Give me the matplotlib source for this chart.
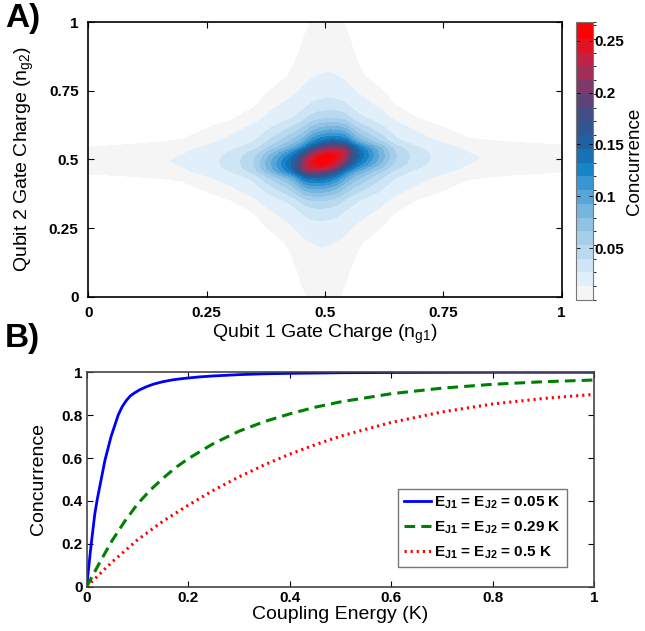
import numpy as np
import matplotlib
matplotlib.use("Agg")
import matplotlib.pyplot as plt
from matplotlib.colors import LinearSegmentedColormap, ListedColormap, BoundaryNorm
from matplotlib.cm import ScalarMappable

plt.rcParams["font.family"] = ["Liberation Sans", "DejaVu Sans"]
plt.rcParams["mathtext.fontset"] = "custom"
plt.rcParams["mathtext.rm"] = "Liberation Sans"
plt.rcParams["mathtext.it"] = "Liberation Sans:italic"
plt.rcParams["mathtext.bf"] = "Liberation Sans:bold"

# --- panel A: concurrence map, read as two cuts through (0.5, 0.5) ---
ng_cut = [0, 0.05, 0.1, 0.15, 0.2, 0.25, 0.3, 0.35, 0.38, 0.41, 0.43, 0.445, 0.455, 0.465,
          0.48, 0.5, 0.52, 0.535, 0.545, 0.555, 0.57, 0.59, 0.62, 0.65, 0.7, 0.75, 0.8,
          0.85, 0.9, 0.95, 1.0]
# concurrence along ng1 at ng2 = 0.5
conc_ng1_cut = [0.0098, 0.0106, 0.0114, 0.0125, 0.0141, 0.0213, 0.0319, 0.0532, 0.0851, 0.120,
                0.146, 0.178, 0.207, 0.234, 0.255, 0.266, 0.255, 0.234, 0.207, 0.178, 0.146,
                0.120, 0.0851, 0.0532, 0.0319, 0.0213, 0.0141, 0.0125, 0.0114, 0.0106, 0.0098]
# concurrence along ng2 at ng1 = 0.5
conc_ng2_cut = [0.0077, 0.0090, 0.0104, 0.0120, 0.0141, 0.0213, 0.0319, 0.0532, 0.0798, 0.112,
                0.138, 0.168, 0.197, 0.226, 0.253, 0.266, 0.253, 0.226, 0.197, 0.168, 0.138,
                0.112, 0.0798, 0.0532, 0.0319, 0.0213, 0.0141, 0.0120, 0.0104, 0.0090, 0.0077]
conc_peak = 0.266
conc_zero = 0.0068      # below this the concurrence is zero (white)
core_shear = 0.3        # tilt of the central spot towards the main diagonal
band_step = 0.01325
cbar_ticks = [0.05, 0.1, 0.15, 0.2, 0.25]

# --- panel B: concurrence vs coupling energy ---
ej_labels = ["0.05", "0.29", "0.5"]
x_blue = [0, 0.004, 0.008, 0.012, 0.016, 0.021, 0.026, 0.031, 0.036, 0.042, 0.048, 0.055,
          0.062, 0.07, 0.078, 0.086, 0.095, 0.105, 0.118, 0.132, 0.15, 0.17, 0.19, 0.22,
          0.25, 0.3, 0.35, 0.4, 0.5, 0.6, 0.8, 1.0]
y_blue = [0, 0.09, 0.18, 0.26, 0.34, 0.41, 0.47, 0.53, 0.59, 0.645, 0.70, 0.75, 0.80, 0.84,
          0.868, 0.89, 0.905, 0.919, 0.933, 0.945, 0.956, 0.965, 0.971, 0.978, 0.983,
          0.989, 0.993, 0.995, 0.998, 0.999, 1.0, 1.0]
x_green = [0, 0.025, 0.05, 0.075, 0.1, 0.125, 0.15, 0.175, 0.2, 0.25, 0.3, 0.35, 0.4, 0.45,
           0.5, 0.6, 0.7, 0.8, 0.9, 1.0]
y_green = [0, 0.11, 0.215, 0.305, 0.385, 0.45, 0.505, 0.555, 0.597, 0.668, 0.725, 0.77, 0.806,
           0.837, 0.862, 0.9, 0.926, 0.944, 0.956, 0.964]
x_red = [0, 0.05, 0.1, 0.15, 0.2, 0.25, 0.3, 0.35, 0.4, 0.45, 0.5, 0.6, 0.7, 0.8, 0.9, 1.0]
y_red = [0, 0.115, 0.218, 0.305, 0.38, 0.45, 0.512, 0.568, 0.618, 0.662, 0.702, 0.766, 0.815,
         0.852, 0.878, 0.897]


def bold_ticks(ax):
    for lab in ax.get_xticklabels() + ax.get_yticklabels():
        lab.set_fontweight("bold")


def main():
    fig = plt.figure(figsize=(6.45, 6.31), dpi=100)

    # field on a fine grid, built from the two cuts (log interpolation)
    g = np.linspace(0, 1, 601)
    log1 = np.log(conc_ng1_cut)
    log2 = np.log(conc_ng2_cut)
    DX, DY = np.meshgrid(g - 0.5, g - 0.5)
    sep = np.exp(np.interp(0.5 + DX, ng_cut, log1) + np.interp(0.5 + DY, ng_cut, log2))
    s = core_shear * sep / conc_peak ** 2
    U = DX - s * DY
    V = DY - s * DX
    Z = np.exp(np.interp(0.5 + U, ng_cut, log1) + np.interp(0.5 + V, ng_cut, log2)) / conc_peak

    levels = [conc_zero] + [band_step * k for k in range(1, 22)]
    cb_bounds = [0.0] + levels[1:-1] + [0.268]
    cmap = LinearSegmentedColormap.from_list("conc", [
        (0.0, "#f7f7f7"), (0.03, "#f4f5f6"), (0.07, "#e0eff9"), (0.18, "#b5d7ee"),
        (0.30, "#7fb9e0"), (0.40, "#3f99d5"), (0.47, "#0f7fc6"), (0.55, "#1f62a0"),
        (0.65, "#414e86"), (0.74, "#7a3a6c"), (0.85, "#c52240"), (0.95, "#ff0000"),
        (1.0, "#ff0000")])
    mids = [(a + b) / 2 for a, b in zip(cb_bounds[:-1], cb_bounds[1:])]
    band_colors = [cmap(m / 0.275) for m in mids]

    ax1 = fig.add_axes([0.1369, 0.5298, 0.7340, 0.4349])
    ax1.contourf(g, g, Z, levels=levels, colors=band_colors)
    ax1.set_xlim(0, 1)
    ax1.set_ylim(0, 1)
    ticks = [0, 0.25, 0.5, 0.75, 1]
    ax1.set_xticks(ticks, ["0", "0.25", "0.5", "0.75", "1"])
    ax1.set_yticks(ticks, ["0", "0.25", "0.5", "0.75", "1"])
    ax1.tick_params(direction="in", top=True, right=True, length=4, width=0.8,
                    labelsize=11, pad=7)
    bold_ticks(ax1)
    for sp in ax1.spines.values():
        sp.set_linewidth(1.2)
    ax1.set_xlabel(r"Qubit 1 Gate Charge (n$_{\mathrm{g1}}$)", fontsize=14, labelpad=2)
    ax1.set_ylabel(r"Qubit 2 Gate Charge (n$_{\mathrm{g2}}$)", fontsize=14, labelpad=9)

    cax = fig.add_axes([0.893, 0.5246, 0.0271, 0.4406])
    sm = ScalarMappable(norm=BoundaryNorm(cb_bounds, len(band_colors)),
                        cmap=ListedColormap(band_colors))
    cb = fig.colorbar(sm, cax=cax, ticks=cbar_ticks, spacing="proportional")
    cb.ax.set_yticklabels(["0.05", "0.1", "0.15", "0.2", "0.25"])
    cb.outline.set_edgecolor("#777777")
    cb.outline.set_linewidth(0.8)
    cax.tick_params(direction="in", left=True, right=True, length=3, width=0.6,
                    labelsize=11, pad=1)
    bold_ticks(cax)
    cb.set_label("Concurrence", fontsize=13.5, labelpad=1)

    # panel B
    ax2 = fig.add_axes([0.1344, 0.0702, 0.7868, 0.3398])
    ax2.plot(x_blue, y_blue, color="#0000ff", lw=2.0,
             label=r"$\mathbf{E_{J1}}$ = $\mathbf{E_{J2}}$ = %s K" % ej_labels[0])
    ax2.plot(x_green, y_green, color="#008000", lw=2.2, linestyle=(0, (3.5, 2)),
             label=r"$\mathbf{E_{J1}}$ = $\mathbf{E_{J2}}$ = %s K" % ej_labels[1])
    ax2.plot(x_red, y_red, color="#ff0000", lw=2.2, linestyle=(0, (0.7, 1.3)),
             label=r"$\mathbf{E_{J1}}$ = $\mathbf{E_{J2}}$ = %s K" % ej_labels[2])
    ax2.set_xlim(0, 1)
    ax2.set_ylim(0, 1)
    t2 = [0, 0.2, 0.4, 0.6, 0.8, 1]
    lab2 = ["0", "0.2", "0.4", "0.6", "0.8", "1"]
    ax2.set_xticks(t2, lab2)
    ax2.set_yticks(t2, lab2)
    ax2.tick_params(direction="in", top=True, right=True, length=4, width=0.8,
                    labelsize=11, pad=3)
    bold_ticks(ax2)
    for sp in ax2.spines.values():
        sp.set_linewidth(1.2)
        sp.set_edgecolor("#444444")
    ax2.set_xlabel("Coupling Energy (K)", fontsize=14, labelpad=1)
    ax2.set_ylabel("Concurrence", fontsize=14, labelpad=10)
    leg = ax2.legend(loc="lower right", bbox_to_anchor=(0.947, 0.093), borderaxespad=0,
                     fancybox=False, prop={"weight": "bold", "size": 11},
                     handlelength=1.8, handletextpad=0.2, labelspacing=0.55,
                     borderpad=0.4)
    leg.get_frame().set_edgecolor("#555555")
    leg.get_frame().set_linewidth(1.0)

    fig.text(0.008, 0.995, "A)", fontsize=24, fontweight="bold", va="top")
    fig.text(0.008, 0.488, "B)", fontsize=24, fontweight="bold", va="top")

    fig.savefig("out.png", dpi=100)


if __name__ == "__main__":
    main()
